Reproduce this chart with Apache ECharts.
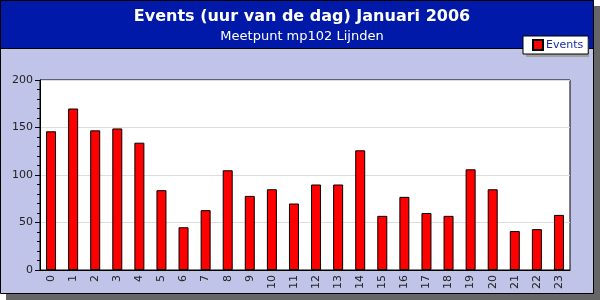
<!DOCTYPE html>
<html>
<head>
<meta charset="utf-8">
<script src="https://cdn.jsdelivr.net/npm/echarts@6/dist/echarts.min.js"></script>
<style>
  html, body { margin: 0; padding: 0; }
  #chart { width: 600px; height: 300px; }
</style>
</head>
<body>
<div id="chart"></div>
<script>
var hours = ['0','1','2','3','4','5','6','7','8','9','10','11','12','13','14','15','16','17','18','19','20','21','22','23'];
var events = [146, 170, 147, 149, 134, 84, 45, 63, 105, 78, 85, 70, 90, 90, 126, 57, 77, 60, 57, 106, 85, 41, 43, 58];
var yTicks = [0, 50, 100, 150, 200];

var myChart = echarts.init(document.getElementById('chart'));
var font = 'DejaVu Sans';

var option = {
    backgroundColor: '#ffffff',
    animation: false,
    textStyle: { fontFamily: font },
    graphic: [
        // schaduw + frame + titelbalk
        { type: 'rect', z: -10, shape: { x: 6, y: 6, width: 594, height: 294 }, style: { fill: '#666666' } },
        { type: 'rect', z: -9, shape: { x: 0.5, y: 0.5, width: 593, height: 293 }, style: { fill: '#C0C4E8', stroke: '#000', lineWidth: 1 } },
        { type: 'rect', z: -8, shape: { x: 0.5, y: 0.5, width: 593, height: 48 }, style: { fill: '#0019A8', stroke: '#000', lineWidth: 1 } },
        // schaduw legenda
        { type: 'rect', z: -7, shape: { x: 526, y: 39, width: 63, height: 18 }, style: { fill: '#a0a0a0' } }
    ],
    title: {
        text: 'Events (uur van de dag) Januari 2006',
        subtext: 'Meetpunt mp102 Lijnden',
        left: 297,
        textAlign: 'center',
        top: 4,
        itemGap: 5,
        textStyle: { color: '#fff', fontSize: 16, fontWeight: 'bold', fontFamily: font },
        subtextStyle: { color: '#fff', fontSize: 13, fontFamily: font }
    },
    legend: {
        data: ['Events'],
        left: 523,
        top: 36,
        padding: [3, 5, 3, 9],
        itemWidth: 10,
        itemHeight: 10,
        itemGap: 4,
        backgroundColor: '#ffffff',
        borderColor: '#000',
        borderWidth: 1,
        borderRadius: 0,
        icon: 'rect',
        textStyle: { color: '#1a2aa8', fontSize: 11, fontFamily: font, padding: [0, 0, 0, -2] }
    },
    grid: {
        left: 40,
        right: 30,
        top: 80,
        bottom: 30,
        show: true,
        backgroundColor: '#ffffff',
        borderColor: '#000',
        borderWidth: 1
    },
    xAxis: {
        type: 'category',
        data: hours,
        axisLine: { lineStyle: { color: '#000' } },
        axisTick: { inside: true, length: 5, lineStyle: { color: '#000' } },
        axisLabel: { rotate: 90, fontSize: 11, color: '#222', margin: 5, fontFamily: font }
    },
    yAxis: {
        type: 'value',
        min: yTicks[0],
        max: yTicks[yTicks.length - 1],
        interval: 50,
        axisLine: { show: true, lineStyle: { color: '#000' } },
        axisTick: { show: true, length: 5, lineStyle: { color: '#000' } },
        minorTick: { show: true, splitNumber: 5, length: 3, lineStyle: { color: '#000' } },
        splitLine: { lineStyle: { color: '#dddddd' } },
        axisLabel: { fontSize: 11, color: '#222', margin: 7, fontFamily: font }
    },
    series: [
        {
            name: 'Events',
            type: 'bar',
            barWidth: 10,
            itemStyle: { color: '#ff0000', borderColor: '#000', borderWidth: 1 },
            data: events
        }
    ]
};
myChart.setOption(option, true);
</script>
</body>
</html>
